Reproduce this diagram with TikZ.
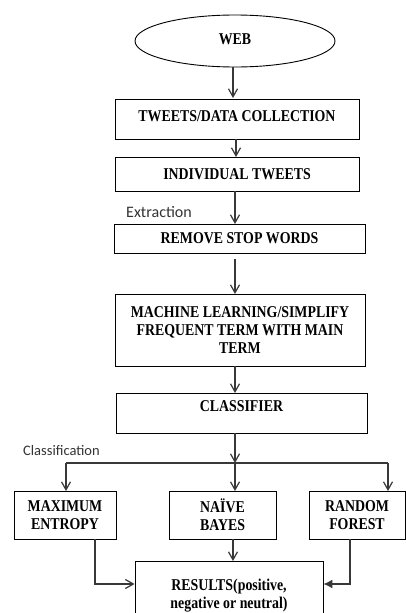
\documentclass[tikz,border=0pt]{standalone}
\usepackage{fontspec}
\setmainfont{Liberation Serif}[FakeStretch=0.84]
\newfontfamily\labfont{Carlito}
\usetikzlibrary{shapes.geometric,arrows.meta}
\begin{document}
\begin{tikzpicture}[x=1pt,y=-1pt,
  box/.style={draw=black,line width=0.9pt,rectangle,inner sep=0pt,align=center,
    font=\fontsize{16.5}{18}\selectfont\bfseries},
  conn/.style={draw=black!78,line width=1.2pt,-{Straight Barb[length=8pt,width=9pt,line width=1.2pt]}},
  plain/.style={draw=black!78,line width=1.2pt},
  lab/.style={text=black!80,inner sep=0pt}]
\useasboundingbox (0,0) rectangle (406,613);
\clip (0,0) rectangle (406,613);
\node[box,ellipse,minimum width=200pt,minimum height=52pt] (web) at (235,41) {\raisebox{3pt}{WEB}};
\node[box,minimum width=244pt,minimum height=40pt] (b1) at (237,119) {\raisebox{5pt}{TWEETS/DATA COLLECTION}};
\node[box,minimum width=244pt,minimum height=34pt] (b2) at (237,174) {INDIVIDUAL TWEETS};
\node[box,minimum width=251pt,minimum height=29pt] (b3) at (239.5,238.5) {REMOVE STOP WORDS};
\node[box,minimum width=250pt,minimum height=72pt] (b4) at (240,330) {MACHINE LEARNING/SIMPLIFY\\FREQUENT TERM WITH MAIN\\TERM};
\node[box,minimum width=251pt,text height=18.5pt,text depth=21.5pt] (b5) at (241.5,413) {CLASSIFIER};
\node[box,minimum width=102pt,minimum height=48pt] (me) at (65,515) {MAXIMUM\\ENTROPY};
\node[box,minimum width=107pt,minimum height=48pt] (nb) at (222.5,515) {NAÏVE\\BAYES};
\node[box,minimum width=96pt,minimum height=48pt] (rf) at (357,515) {RANDOM\\FOREST};
\node[box,minimum width=188pt,minimum height=70pt] (res) at (229,596) {RESULTS(positive,\\negative or neutral)};
\node[lab,anchor=west,font=\labfont\fontsize{16}{18}\selectfont] (ext) at (126,212) {Extraction};
\node[lab,anchor=west,font=\labfont\fontsize{14.5}{16}\selectfont] (cls) at (23,451) {Classification};
\coordinate (split) at (235,463);
\coordinate (sl) at (66,463);
\coordinate (sr) at (388,463);
\draw[conn] (233,67) -- (233,98);
\draw[conn] (236,139) -- (236,157);
\draw[conn] (235,191) -- (235,224);
\draw[conn] (235,259) -- (235,294);
\draw[conn] (235,366) -- (235,393);
\draw[conn] (235,433) -- (split);
\draw[plain] (sl) -- (sr);
\draw[conn] (sl) -- (66,491);
\draw[conn] (split) -- (235,491);
\draw[conn] (sr) -- (388,491);
\draw[conn] (233,539) -- (233,561);
\draw[conn] (95,539) |- (res.west |- 0,584);
\draw[plain,-{Latex[length=9pt,width=9pt]}] (350,539) |- (res.east |- 0,584);
\end{tikzpicture}
\end{document}
